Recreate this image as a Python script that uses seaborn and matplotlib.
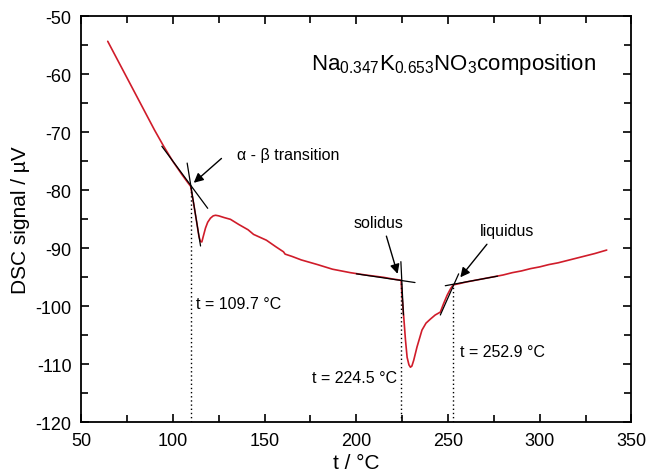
import numpy as np
import pandas as pd
import matplotlib
matplotlib.use("Agg")
import matplotlib.pyplot as plt
import seaborn as sns

# ---- data ----
t_vals = [64.5, 70, 75, 80, 85, 90, 95, 100, 105, 108, 109.7,
          110.5, 111.5, 112.9, 114.2, 115.0, 115.8, 116.7, 117.8, 119.0, 120.5,
          122.0, 123.3, 125.0, 128.0, 131.4, 136.0, 141.0, 144.0, 151.0, 156.0,
          160.3, 161.2, 165.0, 170.0, 178.8, 187.0, 196.8, 205.0, 214.8, 220.0,
          224.4, 225.0, 225.9, 226.8, 227.7, 228.7, 229.5, 230.3, 231.3, 233.1,
          235.8, 238.0, 240.4, 243.0, 245.8, 247.5, 249.5, 251.5, 252.9, 256.0,
          260.0, 265.0, 270.0, 275.0, 280.0, 285.0, 290.0, 295.0, 300.0, 305.0,
          310.0, 315.0, 320.0, 325.0, 330.0, 336.5]
dsc_vals = [-54.3, -57.6, -60.6, -63.6, -66.6, -69.6, -72.4, -75.0, -77.3, -78.6, -79.3,
            -80.8, -82.6, -85.3, -87.9, -88.8, -88.9, -87.8, -86.5, -85.5, -84.8,
            -84.4, -84.3, -84.4, -84.7, -85.0, -85.9, -86.8, -87.6, -88.6, -89.7,
            -90.6, -91.0, -91.4, -92.0, -92.8, -93.6, -94.2, -94.6, -95.0, -95.3,
            -95.5, -98.5, -102.0, -105.8, -108.8, -110.1, -110.5, -110.3, -109.3, -107.0,
            -104.1, -102.9, -102.2, -101.5, -101.0, -99.6, -98.1, -96.9, -96.3, -96.1,
            -95.8, -95.5, -95.2, -94.9, -94.6, -94.2, -93.9, -93.5, -93.2, -92.8,
            -92.5, -92.1, -91.7, -91.3, -90.9, -90.3]

# tangent line end points (t, signal)
tan_ab_base = ([94.0, 119.0], [-72.4, -83.1])
tan_ab_steep = ([107.8, 115.1], [-75.3, -89.6])
tan_sol_base = ([200.0, 232.0], [-94.4, -95.9])
tan_sol_steep = ([224.3, 225.7], [-92.3, -101.5])
tan_liq_base = ([248.5, 277.0], [-96.45, -94.8])
tan_liq_steep = ([245.8, 255.8], [-101.5, -94.4])

onset_t = [109.7, 224.5, 252.9]
onset_v = [-79.3, -95.5, -96.3]
onset_labels = ["t = 109.7 \u00b0C", "t = 224.5 \u00b0C", "t = 252.9 \u00b0C"]

# ---- style ----
sns.set_theme(style="ticks")
plt.rcParams["font.family"] = ["Liberation Sans", "DejaVu Sans"]
plt.rcParams["mathtext.fontset"] = "custom"
plt.rcParams["mathtext.rm"] = "Liberation Sans"
plt.rcParams["mathtext.it"] = "Liberation Sans:italic"
plt.rcParams["mathtext.default"] = "regular"
plt.rcParams["axes.unicode_minus"] = False
plt.rcParams["text.color"] = "black"
plt.rcParams["axes.labelcolor"] = "black"
plt.rcParams["xtick.color"] = "black"
plt.rcParams["ytick.color"] = "black"

fig = plt.figure(figsize=(6.49, 4.77), dpi=100)
ax = fig.add_axes([0.125, 0.1126, 0.848, 0.851])

df = pd.DataFrame({"t": t_vals, "DSC": dsc_vals})
sns.lineplot(data=df, x="t", y="DSC", ax=ax, color="#d01c2a", lw=1.2,
             estimator=None, sort=False)

for xs, ys in [tan_ab_base, tan_ab_steep, tan_sol_base, tan_sol_steep,
               tan_liq_base, tan_liq_steep]:
    ax.plot(xs, ys, color="black", lw=0.9)

for tx, tv in zip(onset_t, onset_v):
    ax.plot([tx, tx], [-120, tv], color="black", lw=1.0, ls=(0, (1, 2)))

# onset labels
ax.text(112.5, -99.6, onset_labels[0], fontsize=11.5, ha="left", va="center")
ax.text(222.3, -112.2, onset_labels[1], fontsize=11.5, ha="right", va="center")
ax.text(256.5, -107.8, onset_labels[2], fontsize=11.5, ha="left", va="center")

arrow = dict(arrowstyle="-|>", color="black", lw=1.0, mutation_scale=14,
             shrinkA=0, shrinkB=0)
ax.annotate("", xy=(111.4, -78.7), xytext=(126.5, -74.5), arrowprops=arrow)
ax.text(135.1, -73.9, "\u03b1 - \u03b2 transition", fontsize=11.5, ha="left", va="center")

ax.annotate("", xy=(222.5, -94.4), xytext=(216.4, -87.9), arrowprops=arrow)
ax.text(212.2, -85.6, "solidus", fontsize=11.5, ha="center", va="center")
ax.annotate("", xy=(256.7, -95.0), xytext=(271.2, -89.3), arrowprops=arrow)
ax.text(282.0, -87.0, "liquidus", fontsize=11.5, ha="center", va="center")

ax.text(175.5, -58.2, r"Na$_{0.347}$K$_{0.653}$NO$_{3}$composition",
        fontsize=16, ha="left", va="center")

ax.set_xlim(50, 350)
ax.set_ylim(-120, -50)
ax.set_xticks(np.arange(50, 351, 50))
ax.set_yticks(np.arange(-120, -49, 10))
ax.set_xticks(np.arange(75, 350, 50), minor=True)
ax.set_yticks(np.arange(-115, -50, 10), minor=True)
ax.tick_params(which="both", direction="in", top=True, right=True,
               labelsize=13, width=1.2, color="black")
ax.tick_params(which="major", length=6, pad=7)
ax.tick_params(which="minor", length=5)
for s in ax.spines.values():
    s.set_linewidth(1.3)
    s.set_color("black")

ax.set_xlabel("t / \u00b0C", fontsize=15, labelpad=3)
ax.set_ylabel("DSC signal / \u00b5V", fontsize=15, labelpad=4)

fig.savefig("out.png", dpi=100)
